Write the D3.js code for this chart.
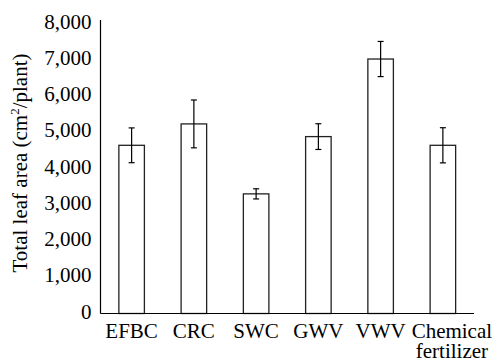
<!DOCTYPE html>
<html>
<head>
<meta charset="utf-8">
<script src="https://cdn.jsdelivr.net/npm/d3@7"></script>
<style>
  body { margin: 0; background: #fff; }
</style>
</head>
<body>
<svg id="chart" width="495" height="364"></svg>
<script>
// data
var categories = ["EFBC", "CRC", "SWC", "GWV", "VWV", "Chemical fertilizer"];
var leafArea = [4640, 5230, 3300, 4880, 7020, 4640];
var errSize = [480, 660, 140, 355, 485, 485];
var yTicks = [0, 1000, 2000, 3000, 4000, 5000, 6000, 7000, 8000];

var svg = d3.select("#chart");
var plotL = 100.5, plotR = 474, plotB = 313.5, plotT = 23.5;
var serif = "Liberation Serif";
var fs = 21;

var x = d3.scaleBand().domain(categories).range([plotL, plotR]).paddingInner(0.59).paddingOuter(0.295);
var y = d3.scaleLinear().domain([0, 8000]).range([plotB, plotT]);
var fmt = d3.format(",");

// y axis
var yAxis = svg.append("g")
    .attr("transform", "translate(" + plotL + ",0)")
    .call(d3.axisLeft(y).tickValues(yTicks).tickSize(0).tickPadding(9).tickFormat(fmt));
yAxis.attr("font-family", serif).attr("font-size", fs);
yAxis.select(".domain").remove();
yAxis.selectAll("text").attr("dy", "0.22em").attr("fill", "#000");
svg.append("line").attr("x1", plotL).attr("x2", plotL).attr("y1", 20).attr("y2", plotB)
    .attr("stroke", "#000").attr("stroke-width", 1.2);

// bars
var g = svg.append("g");
g.selectAll("rect").data(categories).enter().append("rect")
    .attr("x", function(d){ return x(d); })
    .attr("width", x.bandwidth())
    .attr("y", function(d, i){ return y(leafArea[i]); })
    .attr("height", function(d, i){ return plotB - y(leafArea[i]); })
    .attr("fill", "#fff")
    .attr("stroke", "#222")
    .attr("stroke-width", 1.3);

// error bars
var eb = g.selectAll("g.err").data(categories).enter().append("g").attr("class", "err");
eb.append("line")
    .attr("x1", function(d){ return x(d) + x.bandwidth()/2; })
    .attr("x2", function(d){ return x(d) + x.bandwidth()/2; })
    .attr("y1", function(d, i){ return y(leafArea[i] + errSize[i]); })
    .attr("y2", function(d, i){ return y(leafArea[i] - errSize[i]); })
    .attr("stroke", "#000").attr("stroke-width", 1.2);
[1, -1].forEach(function(s){
    eb.append("line")
        .attr("x1", function(d){ return x(d) + x.bandwidth()/2 - 3; })
        .attr("x2", function(d){ return x(d) + x.bandwidth()/2 + 3; })
        .attr("y1", function(d, i){ return y(leafArea[i] + s*errSize[i]); })
        .attr("y2", function(d, i){ return y(leafArea[i] + s*errSize[i]); })
        .attr("stroke", "#000").attr("stroke-width", 1.2);
});

// x axis
svg.append("line").attr("x1", plotL).attr("x2", plotR).attr("y1", plotB).attr("y2", plotB)
    .attr("stroke", "#000").attr("stroke-width", 1.2);
var xl = svg.append("g").attr("font-family", serif).selectAll("text").data(categories).enter().append("text")
    .attr("text-anchor", "middle")
    .attr("font-size", fs)
    .attr("x", function(d){ return x(d) + x.bandwidth()/2; })
    .attr("y", 337.5);
xl.each(function(d){
    var words = d.split(" ");
    var t = d3.select(this);
    if (words.length > 1) {
        var cx = x(d) + x.bandwidth()/2 + 9;
        t.attr("x", null);
        words.forEach(function(w, k){
            t.append("tspan").attr("x", cx).attr("dy", k ? 20 : 0).text(w);
        });
    } else {
        t.text(d);
    }
});

// y title
var yt = svg.append("text")
    .attr("font-family", serif)
    .attr("transform", "translate(27,163) rotate(-90)")
    .attr("text-anchor", "middle")
    .attr("font-size", fs);
yt.append("tspan").text("Total leaf area (cm");
yt.append("tspan").attr("font-size", 13).attr("dy", -8).text("2");
yt.append("tspan").attr("dy", 8).text("/plant)");
</script>
</body>
</html>
